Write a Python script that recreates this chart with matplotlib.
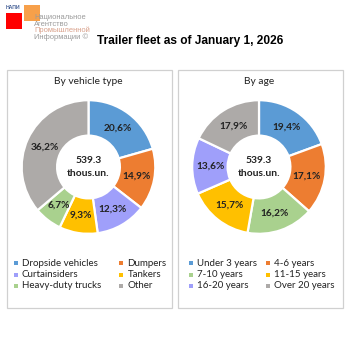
import matplotlib
matplotlib.use("Agg")
import matplotlib.pyplot as plt
import numpy as np
from matplotlib.patches import Rectangle

# data
type_labels = ["Dropside vehicles", "Dumpers", "Curtainsiders", "Tankers",
               "Heavy-duty trucks", "Other"]
type_values = [20.6, 14.9, 12.3, 9.3, 6.7, 36.2]

age_labels = ["Under 3 years", "4-6 years", "7-10 years", "11-15 years",
              "16-20 years", "Over 20 years"]
age_values = [19.4, 17.1, 16.2, 15.7, 13.6, 17.9]

total_text = "539.3\nthous.un."

BLUE, ORANGE, PURPLE = "#5B9BD5", "#ED7D31", "#9F9FFA"
YELLOW, GREEN, GREY = "#FFC000", "#A9D18E", "#ADAAA8"
type_colors = [BLUE, ORANGE, PURPLE, YELLOW, GREEN, GREY]
age_colors = [BLUE, ORANGE, GREEN, YELLOW, PURPLE, GREY]

W = H = 353
fig = plt.figure(figsize=(W / 100, H / 100), dpi=100)
fig.patch.set_facecolor("white")

BODY = ["Lato", "DejaVu Sans"]


def px(x, y):
    """top-left pixel coords -> figure fraction"""
    return x / W, 1 - y / H


def add_rect(x0, y0, x1, y1, **kw):
    fx, fy = px(x0, y1)
    fig.add_artist(Rectangle((fx, fy), (x1 - x0) / W, (y1 - y0) / H,
                             transform=fig.transFigure, **kw))


# logo
add_rect(6, 13, 22, 29, facecolor="#FF0000", edgecolor="none")
add_rect(24, 5, 40, 21, facecolor="#F7A04A", edgecolor="none")
fig.text(*px(6, 7.5), "НАПИ", fontsize=3.6, color="#33508C",
         va="center", family=BODY, weight="bold")
logo_lines = [("Национальное", "#9A9A9A"), ("Агентство", "#9A9A9A"),
              ("Промышленной", "#D9A08A"), ("Информации ©", "#9A9A9A")]
for i, (s, c) in enumerate(logo_lines):
    fig.text(*px(34, 17.5 + i * 6.5), s, fontsize=5.4, color=c,
             va="center", family=["Liberation Sans Narrow", "Liberation Sans"])

fig.text(*px(190, 41), "Trailer fleet as of January 1, 2026",
         fontsize=8.6, weight="bold", ha="center", va="center",
         family=["Liberation Sans", "DejaVu Sans"])

# panel frames
for x0, x1 in [(7, 172), (178, 343)]:
    add_rect(x0, 70, x1, 308, facecolor="none", edgecolor="#D0D0D0",
             linewidth=0.9)


def donut(cx, cy, values, labels, colors, title, leg_x):
    R = 66.8
    fx, fy = px(cx - R, cy + R)
    ax = fig.add_axes([fx, fy, 2 * R / W, 2 * R / H])
    ax.pie(values, colors=colors, startangle=90, counterclock=False,
           radius=1.0,
           wedgeprops=dict(width=0.53, edgecolor="white", linewidth=1.6))
    ang = 90.0
    tot = sum(values)
    for v in values:
        mid = np.deg2rad(ang - v / tot * 180.0)
        ang -= v / tot * 360.0
        ax.text(0.725 * np.cos(mid), 0.725 * np.sin(mid),
                f"{v:.1f}%".replace(".", ","), ha="center", va="center",
                fontsize=7.3, weight="bold", family=BODY, color="#222222")
    ax.text(0, 0, total_text, ha="center", va="center", fontsize=7.4,
            weight="bold", family=BODY, linespacing=1.45, color="#222222")
    ax.set_xlim(-1, 1)
    ax.set_ylim(-1, 1)
    ax.set_aspect("equal")
    ax.axis("off")

    fig.text(*px(cx, 81), title, ha="center", va="center", fontsize=7.4,
             family=BODY, color="#222222")

    # legend, filled row by row
    for i, (lab, col) in enumerate(zip(labels, colors)):
        row, c = divmod(i, 2)
        lx = leg_x[c]
        ly = 263 + row * 11.5
        add_rect(lx - 2, ly - 2, lx + 2, ly + 2, facecolor=col,
                 edgecolor="none")
        fig.text(*px(lx + 6.5, ly), lab, ha="left", va="center",
                 fontsize=7.0, family=BODY, color="#222222")


donut(88.5, 167, type_values, type_labels, type_colors,
      "By vehicle type", (15.5, 121))
donut(259, 167, age_values, age_labels, age_colors, "By age", (190.5, 268))

fig.savefig("out.png", dpi=100, facecolor="white")
